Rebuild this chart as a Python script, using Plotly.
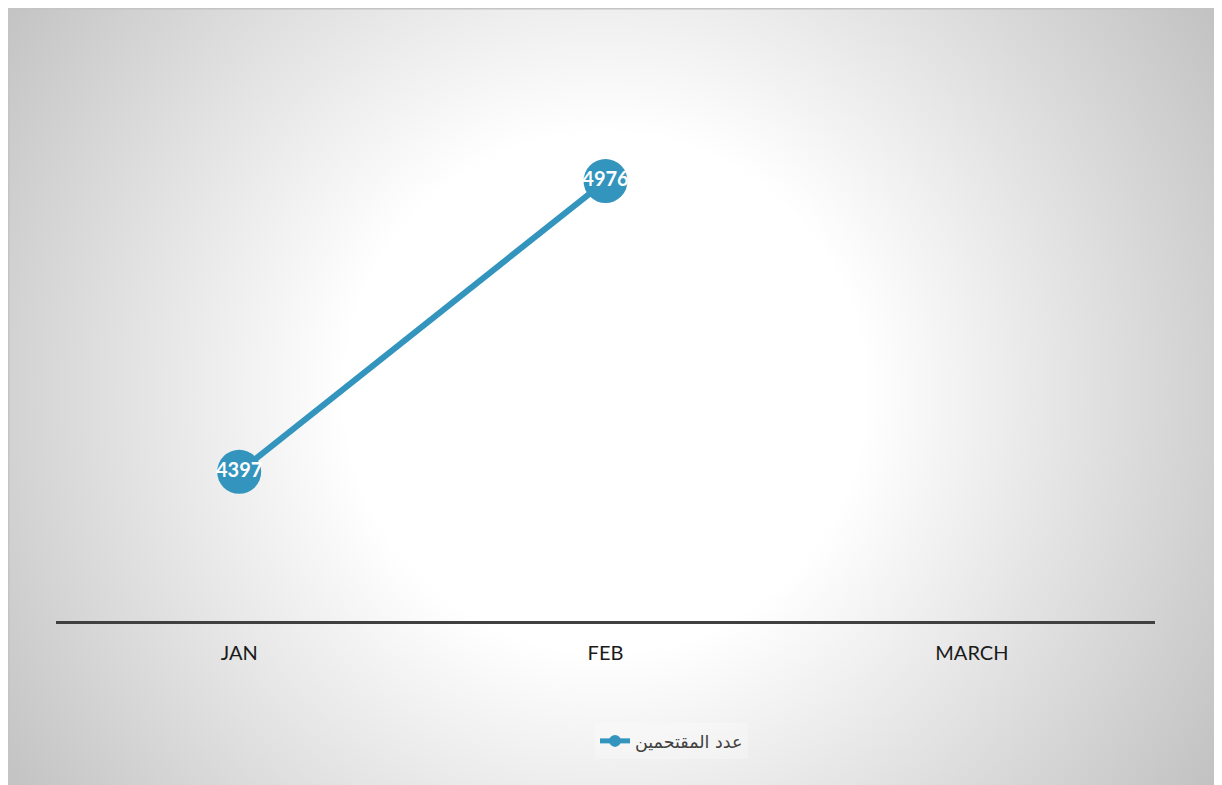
import base64
import plotly.graph_objects as go

categories = ["JAN", "FEB", "MARCH"]
values = [4397, 4976, None]
series_name = "عدد المقتحمين"

W, H = 1240, 790
PL, PR, PT, PB = 48, 1147, 161, 613  # plot area in figure pixels

def px2paper_x(px):
    return (px - PL) / (PR - PL)

def px2paper_y(py):
    return (PB - py) / (PB - PT)

# radial gradient background as an SVG image
svg = f'''<svg xmlns="http://www.w3.org/2000/svg" width="{W}" height="{H}" viewBox="0 0 {W} {H}">
<defs><radialGradient id="g" gradientUnits="userSpaceOnUse" cx="597" cy="385" r="720">
<stop offset="0.36" stop-color="#ffffff"/><stop offset="1" stop-color="#c2c2c2"/>
</radialGradient></defs>
<rect x="0" y="0" width="{W}" height="{H}" fill="url(#g)"/>
<rect x="0.75" y="0.75" width="{W+5}" height="{H+5}" fill="none" stroke="#c4c4c4" stroke-width="1.5"/>
</svg>'''
src = "data:image/svg+xml;base64," + base64.b64encode(svg.encode()).decode()

color = "#3395bd"
fig = go.Figure()
fig.add_trace(go.Scatter(
    x=categories, y=values, name=series_name,
    mode="lines+markers+text",
    line=dict(color=color, width=6),
    marker=dict(color=color, size=44),
    text=[str(v) if v is not None else "" for v in values],
    textposition="middle center",
    textfont=dict(family="Lato, DejaVu Sans", size=20, color="white", weight="bold"),
    cliponaxis=False,
))

fig.update_layout(
    width=W, height=H,
    margin=dict(l=PL, r=W - PR, t=PT, b=H - PB, autoexpand=False),
    paper_bgcolor="#c8c8c8",
    plot_bgcolor="rgba(0,0,0,0)",
    font=dict(family="Lato, DejaVu Sans", color="#1a1a1a"),
    showlegend=True,
    legend=dict(
        orientation="h", x=px2paper_x(740), xanchor="right",
        y=px2paper_y(733), yanchor="middle",
        itemsizing="constant",
        bgcolor="rgba(255,255,255,0.25)",
        font=dict(family="DejaVu Sans, Lato", size=17.5, color="#404040"),
    ),
    xaxis=dict(
        type="category", range=[-0.5, 2.5],
        showline=True, linecolor="#404040", linewidth=3,
        showgrid=False, zeroline=False, ticks="",
        ticklabelstandoff=12,
        tickfont=dict(family="Lato", size=20, color="#1a1a1a"),
        fixedrange=True,
    ),
    yaxis=dict(
        range=[4100, 5000], visible=False, showgrid=False, zeroline=False,
    ),
    images=[dict(
        source=src, xref="paper", yref="paper",
        x=px2paper_x(0), y=px2paper_y(0),
        sizex=W / (PR - PL), sizey=H / (PB - PT),
        xanchor="left", yanchor="top", sizing="stretch", layer="below",
    )],
)

fig.write_html("out.html")
